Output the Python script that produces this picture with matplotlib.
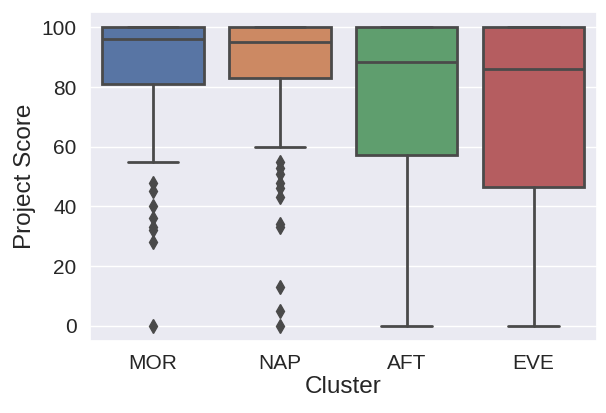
import matplotlib
matplotlib.use('Agg')
import matplotlib.pyplot as plt
import seaborn as sns

sns.set_theme(style='darkgrid', font_scale=1.4)
plt.rcParams['font.family'] = ['Liberation Sans', 'DejaVu Sans']

# box statistics
clusters = ['MOR', 'NAP', 'AFT', 'EVE']
q1_vals = [81, 83, 57.2, 46.5]
med_vals = [96, 95, 88.5, 86]
q3_vals = [100, 100, 100, 100]
whislo_vals = [55, 60, 0, 0]
whishi_vals = [100, 100, 100, 100]
flier_vals = [
    [48, 45, 40, 36, 33, 32, 28, 0],
    [55, 53, 51, 48, 46, 43, 34, 33, 13, 5, 0],
    [],
    [],
]
colors = ['#5875a4', '#cc8963', '#5f9e6e', '#b55d60']
line_col = '#4a4a4a'

stats = []
for i in range(len(clusters)):
    stats.append({'q1': q1_vals[i], 'med': med_vals[i], 'q3': q3_vals[i],
                  'whislo': whislo_vals[i], 'whishi': whishi_vals[i],
                  'fliers': flier_vals[i], 'label': clusters[i]})

fig, ax = plt.subplots(figsize=(6.06, 4.13), dpi=100)
bp = ax.bxp(stats, positions=range(len(clusters)), widths=0.8, patch_artist=True,
            boxprops={'edgecolor': line_col, 'linewidth': 2},
            medianprops={'color': line_col, 'linewidth': 2},
            whiskerprops={'color': line_col, 'linewidth': 2},
            capprops={'color': line_col, 'linewidth': 2},
            flierprops={'marker': 'd', 'markerfacecolor': line_col,
                        'markeredgecolor': line_col, 'markersize': 7})
for patch, c in zip(bp['boxes'], colors):
    patch.set_facecolor(c)

ax.set_xlim(-0.5, 3.5)
ax.set_ylim(-5, 105)
ax.set_xticks(range(len(clusters)))
ax.set_xticklabels(clusters)
ax.set_yticks([0, 20, 40, 60, 80, 100])
ax.tick_params(axis='both', labelsize=15)
ax.set_xlabel('Cluster', fontsize=17.5, labelpad=2)
ax.set_ylabel('Project Score', fontsize=17.5)
ax.xaxis.grid(False)

fig.subplots_adjust(left=0.148, right=0.985, top=0.97, bottom=0.175)
fig.savefig('out.png', dpi=100)
